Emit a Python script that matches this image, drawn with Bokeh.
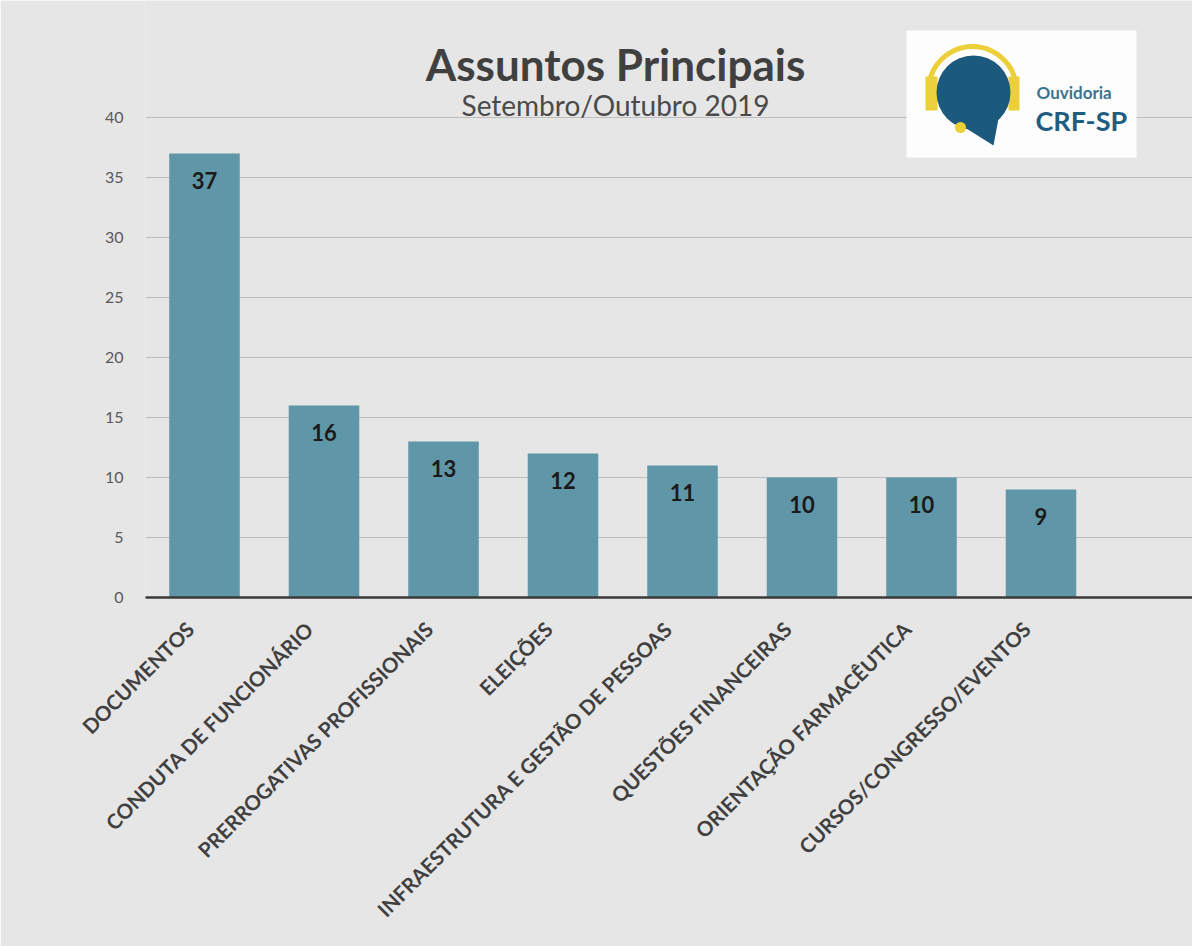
import math
from bokeh.plotting import figure
from bokeh.models import Range1d, FixedTicker, LabelSet, ColumnDataSource, Label
from bokeh.core.properties import value
from bokeh.embed import file_html
from bokeh.resources import INLINE

# ---- data ----
categories = ["DOCUMENTOS", "CONDUTA DE FUNCIONÁRIO", "PRERROGATIVAS PROFISSIONAIS",
              "ELEIÇÕES", "INFRAESTRUTURA E GESTÃO DE PESSOAS", "QUESTÕES FINANCEIRAS",
              "ORIENTAÇÃO FARMACÊUTICA", "CURSOS/CONGRESSO/EVENTOS"]
values = [37, 16, 13, 12, 11, 10, 10, 9]
y_ticks = [0, 5, 10, 15, 20, 25, 30, 35, 40]
title_text = "Assuntos Principais"
subtitle_text = "Setembro/Outubro 2019"

# ---- layout helpers (page pixel -> data) ----
X0, XSTEP = 204.0, 119.5
Y0, YSTEP = 597.0, 12.0
def px2x(px):
    return (px - X0) / XSTEP
def px2y(py):
    return (Y0 - py) / YSTEP

W, H = 1192, 946
LEFT = 145
BG = "#e6e6e6"
FONT = "Lato"
LABEL_SHIFT = -0.12  # rotated category labels end slightly left of bar centre

p = figure(width=W, height=H, output_backend="svg", toolbar_location=None,
           x_range=Range1d(px2x(LEFT), px2x(W)),
           y_range=Range1d(0, px2y(0)),
           min_border_left=LEFT, min_border_right=0, min_border_top=0,
           min_border_bottom=H - int(Y0))
p.background_fill_color = BG
p.border_fill_color = BG
p.outline_line_color = None

xs = list(range(len(categories)))
src = ColumnDataSource(dict(x=xs, y=values, t=[str(v) for v in values]))
p.vbar(x="x", top="y", width=0.59, bottom=0, source=src,
       fill_color="#5f96a8", line_color=None)

p.add_layout(LabelSet(x="x", y="y", text="t", source=src, y_offset=-27,
                      text_align="center", text_baseline="middle",
                      text_font_size=value("22px"), text_font=value(FONT),
                      text_font_style="bold", text_color="#1a1a1a"))

# axes
p.yaxis.ticker = FixedTicker(ticks=y_ticks)
p.yaxis.axis_line_color = None
p.yaxis.major_tick_line_color = None
p.yaxis.major_tick_out = 0
p.yaxis.major_tick_in = 0
p.yaxis.minor_tick_line_color = None
p.yaxis.major_label_text_font = FONT
p.yaxis.major_label_text_font_size = "16px"
p.yaxis.major_label_text_color = "#595959"
p.yaxis.major_label_standoff = 22

tick_pos = [i + LABEL_SHIFT for i in xs]
p.xaxis.ticker = FixedTicker(ticks=tick_pos)
p.xaxis.major_label_overrides = {t: c for t, c in zip(tick_pos, categories)}
p.xaxis.major_label_orientation = math.pi / 4
p.xaxis.axis_line_color = "#3a3a3a"
p.xaxis.axis_line_width = 2.5
p.xaxis.major_tick_line_color = None
p.xaxis.major_tick_out = 0
p.xaxis.major_tick_in = 0
p.xaxis.minor_tick_line_color = None
p.xaxis.major_label_text_font = FONT
p.xaxis.major_label_text_font_size = "20.5px"
p.xaxis.major_label_text_font_style = "bold"
p.xaxis.major_label_text_color = "#404040"
p.xaxis.major_label_standoff = 28

p.xgrid.grid_line_color = None
p.ygrid.ticker = FixedTicker(ticks=y_ticks)
p.ygrid.grid_line_color = "#bdbdbd"
p.ygrid.grid_line_width = 1

# titles
p.add_layout(Label(x=px2x(615), y=px2y(63), text=title_text, text_align="center",
                   text_baseline="alphabetic", text_font=FONT, text_font_size="44px",
                   text_font_style="bold", text_color="#404040"))
p.add_layout(Label(x=px2x(615), y=px2y(104), text=subtitle_text, text_align="center",
                   text_baseline="alphabetic", text_font=FONT, text_font_size="28px",
                   text_color="#4a4a4a"))

# ---- logo (decoration) ----
p.quad(left=[px2x(906)], right=[px2x(1136)], top=[px2y(30)], bottom=[px2y(157)],
       fill_color="#fdfdfd", line_color=None)
p.arc(x=[px2x(972)], y=[px2y(90)], radius=44, radius_units="screen",
      start_angle=-0.35, end_angle=math.pi + 0.35, line_color="#ecd03a", line_width=5)
p.quad(left=[px2x(925), px2x(1008)], right=[px2x(937), px2x(1019)],
       top=[px2y(76), px2y(76)], bottom=[px2y(110), px2y(110)],
       fill_color="#ecd03a", line_color=None)
p.patch(x=[px2x(950), px2x(998), px2x(993)], y=[px2y(118), px2y(118), px2y(145)],
        fill_color="#1b5a7c", line_color=None)
p.scatter(x=[px2x(973)], y=[px2y(92)], size=74, marker="circle",
          fill_color="#1b5a7c", line_color=None)
p.scatter(x=[px2x(960)], y=[px2y(127)], size=11, marker="circle",
          fill_color="#ecd03a", line_color=None)
p.add_layout(Label(x=px2x(1036), y=px2y(92), text="Ouvidoria", text_font=FONT,
                   text_font_size="17px", text_font_style="bold", text_color="#3a7390",
                   text_baseline="alphabetic"))
p.add_layout(Label(x=px2x(1035), y=px2y(120), text="CRF-SP", text_font=FONT,
                   text_font_size="27px", text_font_style="bold", text_color="#1f5d80",
                   text_baseline="alphabetic"))

open("out.html", "w").write(file_html(p, INLINE))
